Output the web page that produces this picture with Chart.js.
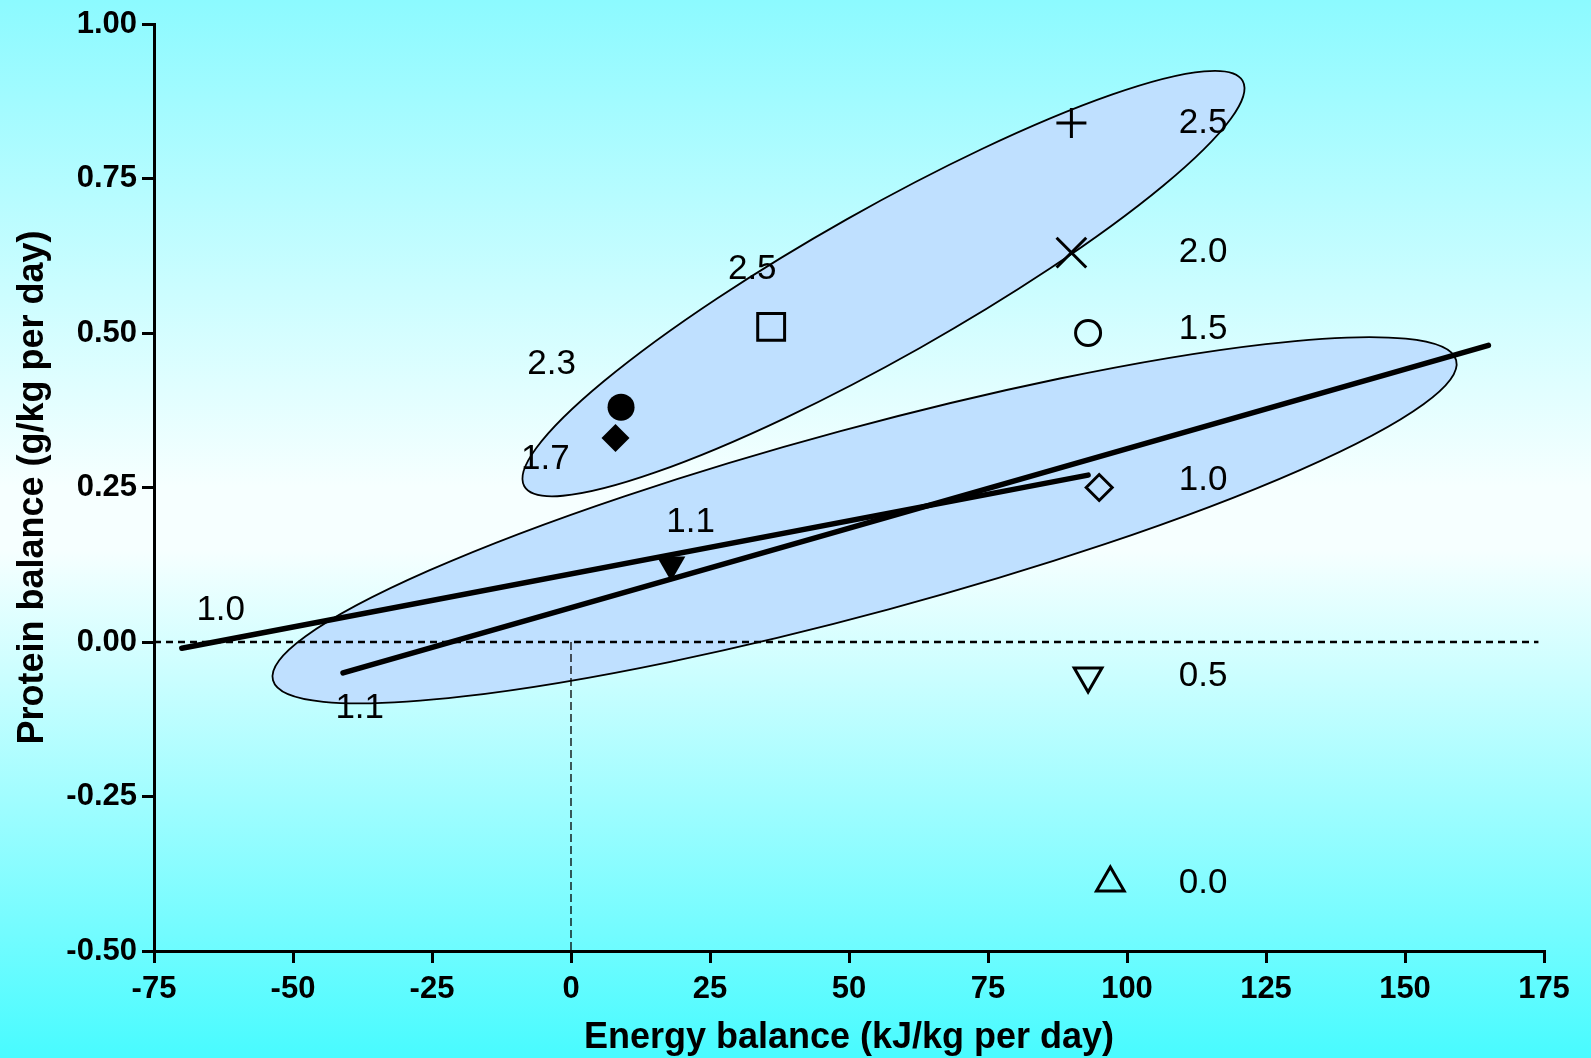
<!DOCTYPE html>
<html>
<head>
<meta charset="utf-8">
<script src="https://cdn.jsdelivr.net/npm/chart.js@4.4.1/dist/chart.umd.min.js"></script>
<style>
  html, body { margin: 0; padding: 0; }
  body {
    width: 1591px;
    height: 1058px;
    overflow: hidden;
    background: linear-gradient(to bottom, #8cfaff 0%, #f6ffff 46%, #f6ffff 52%, #48fbff 100%);
  }
</style>
</head>
<body>
<canvas id="balance" width="1591" height="1058"></canvas>
<script>
// axis ticks
const xTicks = [-75, -50, -25, 0, 25, 50, 75, 100, 125, 150, 175]
const yTicks = [-0.5, -0.25, 0, 0.25, 0.5, 0.75, 1.0]

// markers at the right (protein intake column) and their labels
const sideX = [90, 90, 93, 95, 93, 97]
const sideY = [0.84, 0.63, 0.50, 0.25, -0.055, -0.39]
const sideLabels = ['2.5', '2.0', '1.5', '1.0', '0.5', '0.0']
const sideLabelX = [113.7, 113.7, 113.7, 113.7, 113.7, 113.7]
const sideLabelY = [0.839, 0.631, 0.506, 0.262, -0.055, -0.39]

// markers in the upper-left cluster
const clusterX = [9, 8, 36, 18]
const clusterY = [0.38, 0.33, 0.51, 0.125]

// free text labels
const noteLabels = ['2.5', '2.3', '1.7', '1.1', '1.0', '1.1']
const noteX = [32.6, -3.5, -4.6, 21.5, -63.0, -38.0]
const noteY = [0.603, 0.449, 0.296, 0.193, 0.052, -0.107]

// regression lines
const lineAX = [-70, 93]
const lineAY = [-0.01, 0.27]
const lineBX = [-41, 165]
const lineBY = [-0.05, 0.48]

// reference lines
const zeroX = [-75, 174]
const zeroY = [0, 0]
const vertX = [0, 0]
const vertY = [0, -0.5]

// ellipses: center, end of major axis, end of minor axis (data units)
const ellipseCenters = [[52.8, 0.197], [56.2, 0.580]]
const ellipseMajorEnds = [[159.2, 0.456], [120.8, 0.908]]
const ellipseMinorEnds = [[57.2, 0.053], [62.8, 0.476]]

const FONT = '"Liberation Sans", Arial, Helvetica, sans-serif'
Chart.defaults.font.family = FONT
Chart.defaults.color = '#000'

const sideStyles = [
  { pointStyle: 'cross', radius: 15, fill: 'transparent', width: 3, rotation: 0 },
  { pointStyle: 'crossRot', radius: 21, fill: 'transparent', width: 3, rotation: 0 },
  { pointStyle: 'circle', radius: 12.5, fill: 'transparent', width: 3, rotation: 0 },
  { pointStyle: 'rectRot', radius: 13, fill: 'transparent', width: 3, rotation: 0 },
  { pointStyle: 'triangle', radius: 16, fill: 'transparent', width: 3, rotation: 180 },
  { pointStyle: 'triangle', radius: 16, fill: 'transparent', width: 3, rotation: 0 }
]
const clusterStyles = [
  { pointStyle: 'circle', radius: 13.5, fill: '#000', width: 0, rotation: 0 },
  { pointStyle: 'rectRot', radius: 14, fill: '#000', width: 0, rotation: 0 },
  { pointStyle: 'rect', radius: 19, fill: 'transparent', width: 3, rotation: 0 },
  { pointStyle: 'triangle', radius: 16.5, fill: '#000', width: 0, rotation: 180 }
]

function markerSet(x, y, s) {
  return {
    type: 'scatter',
    data: [{ x: x, y: y }],
    pointStyle: s.pointStyle,
    pointRadius: s.radius,
    pointRotation: s.rotation,
    pointBackgroundColor: s.fill,
    pointBorderColor: '#000',
    pointBorderWidth: s.width,
    order: 0
  }
}

function lineSet(xs, ys, width, dash, order) {
  return {
    type: 'line',
    data: xs.map((v, i) => ({ x: v, y: ys[i] })),
    borderColor: '#000',
    borderWidth: width,
    borderDash: dash,
    borderCapStyle: dash.length ? 'butt' : 'round',
    pointRadius: 0,
    fill: false,
    tension: 0,
    order: order
  }
}

let datasets = []
sideX.forEach((v, i) => datasets.push(markerSet(v, sideY[i], sideStyles[i])))
clusterX.forEach((v, i) => datasets.push(markerSet(v, clusterY[i], clusterStyles[i])))
datasets.push(lineSet(lineAX, lineAY, 5.5, [], 1))
datasets.push(lineSet(lineBX, lineBY, 5.5, [], 1))
datasets.push(lineSet(zeroX, zeroY, 2.5, [7, 5], 2))
datasets.push(lineSet(vertX, vertY, 1.3, [8, 4], 2))

const decorations = {
  id: 'decorations',
  beforeDatasetsDraw(chart) {
    const { ctx, scales: { x, y } } = chart
    ctx.save()
    for (let i = 0; i < ellipseCenters.length; i++) {
      let c = ellipseCenters[i], m = ellipseMajorEnds[i], n = ellipseMinorEnds[i]
      let cx = x.getPixelForValue(c[0]), cy = y.getPixelForValue(c[1])
      let mx = x.getPixelForValue(m[0]) - cx, my = y.getPixelForValue(m[1]) - cy
      let nx = x.getPixelForValue(n[0]) - cx, ny = y.getPixelForValue(n[1]) - cy
      ctx.beginPath()
      ctx.ellipse(cx, cy, Math.hypot(mx, my), Math.hypot(nx, ny), Math.atan2(my, mx), 0, Math.PI * 2)
      ctx.fillStyle = '#bfe0ff'
      ctx.fill()
      ctx.lineWidth = 1.8
      ctx.strokeStyle = '#000'
      ctx.stroke()
    }
    ctx.restore()
  },
  afterDatasetsDraw(chart) {
    const { ctx, scales: { x, y } } = chart
    ctx.save()
    ctx.font = '35px ' + FONT
    ctx.fillStyle = '#000'
    ctx.textAlign = 'center'
    ctx.textBaseline = 'middle'
    sideLabels.forEach((t, i) => {
      ctx.fillText(t, x.getPixelForValue(sideLabelX[i]), y.getPixelForValue(sideLabelY[i]))
    })
    noteLabels.forEach((t, i) => {
      ctx.fillText(t, x.getPixelForValue(noteX[i]), y.getPixelForValue(noteY[i]))
    })
    ctx.restore()
  }
}

const axisGrid = {
  display: true,
  drawOnChartArea: false,
  drawTicks: true,
  tickLength: 12,
  color: '#000',
  lineWidth: 3
}

new Chart(document.getElementById('balance'), {
  type: 'scatter',
  data: { datasets: datasets },
  options: {
    responsive: false,
    devicePixelRatio: 1,
    animation: false,
    layout: { padding: { top: 21, right: 47, left: 0, bottom: 0 } },
    plugins: { legend: { display: false }, tooltip: { enabled: false } },
    scales: {
      x: {
        type: 'linear',
        min: -75,
        max: 175,
        afterBuildTicks: (scale) => { scale.ticks = xTicks.map(v => ({ value: v })) },
        afterFit: (scale) => { scale.height = 107 },
        grid: axisGrid,
        border: { display: true, color: '#000', width: 3 },
        ticks: { padding: 8, font: { size: 31, weight: 'bold' }, color: '#000' },
        title: {
          display: true,
          text: 'Energy balance (kJ/kg per day)',
          font: { size: 36, weight: 'bold', lineHeight: 1.0 },
          color: '#000',
          padding: { top: 0, bottom: 2 }
        }
      },
      y: {
        type: 'linear',
        min: -0.5,
        max: 1.0,
        afterBuildTicks: (scale) => { scale.ticks = yTicks.map(v => ({ value: v })) },
        afterFit: (scale) => { scale.width = 154 },
        grid: axisGrid,
        border: { display: true, color: '#000', width: 3 },
        ticks: {
          padding: 5,
          font: { size: 31, weight: 'bold' },
          color: '#000',
          callback: (v) => v.toFixed(2)
        },
        title: {
          display: true,
          text: 'Protein balance (g/kg per day)',
          font: { size: 36, weight: 'bold', lineHeight: 1.2 },
          color: '#000',
          padding: { top: 11, bottom: 0 }
        }
      }
    }
  },
  plugins: [decorations]
})
</script>
</body>
</html>
